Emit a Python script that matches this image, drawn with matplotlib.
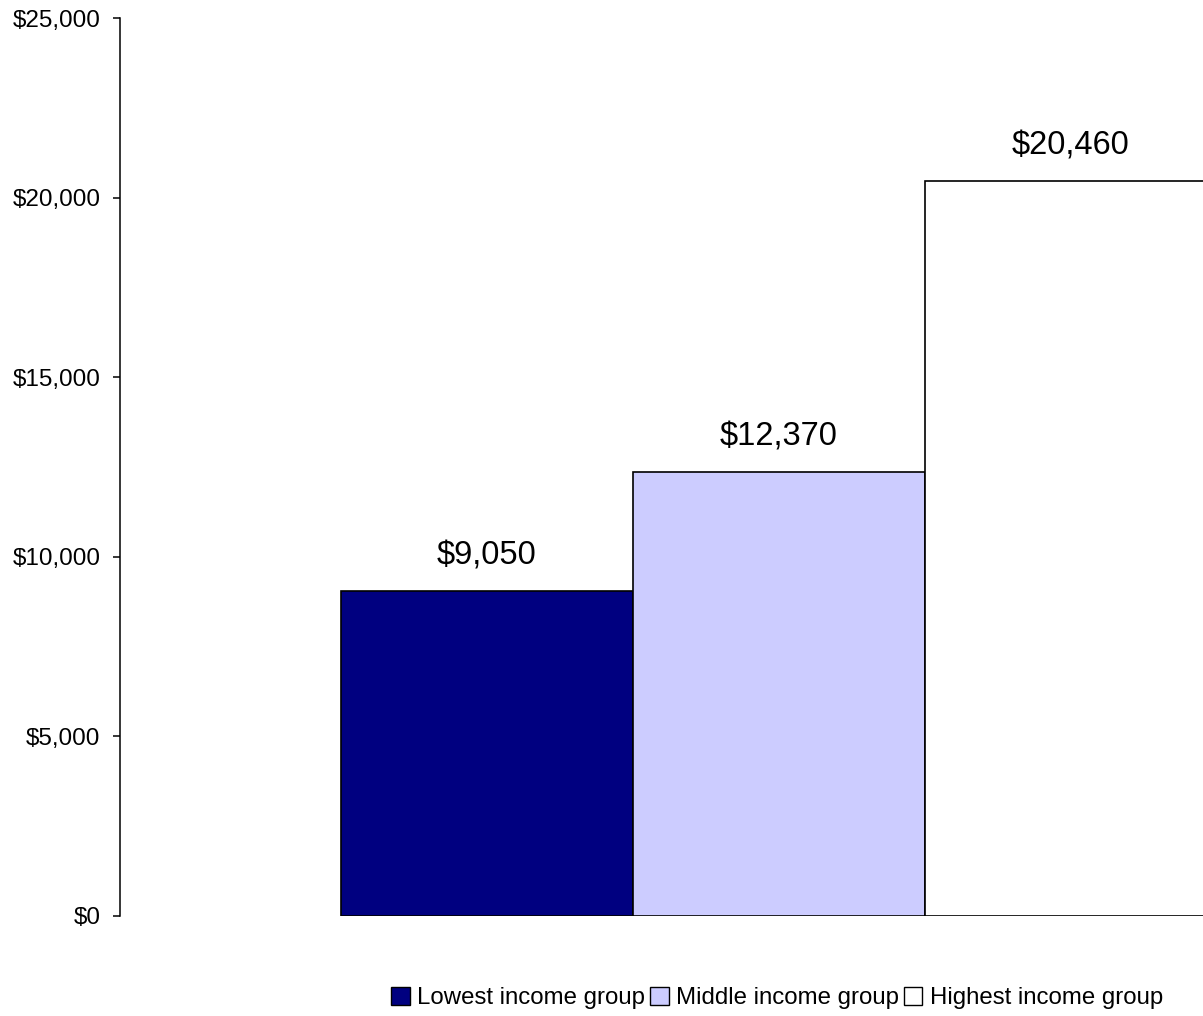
import matplotlib
matplotlib.use("Agg")
import matplotlib.pyplot as plt
from matplotlib import font_manager
from matplotlib.patches import Patch
from matplotlib.ticker import FuncFormatter

names = {f.name for f in font_manager.fontManager.ttflist}
fam = "Liberation Sans Narrow" if "Liberation Sans Narrow" in names else "Liberation Sans"
plt.rcParams['font.family'] = [fam, 'DejaVu Sans']
narrow = fam == "Liberation Sans Narrow"

groups = ["Lowest income group", "Middle income group", "Highest income group"]
values = [9050, 12370, 20460]
labels = ["$9,050", "$12,370", "$20,460"]
colors = ["#000080", "#CCCCFF", "#FFFFFF"]
yticks = [0, 5000, 10000, 15000, 20000, 25000]

tick_fs = 20 if narrow else 17.5
lab_fs = 26 if narrow else 23.5
leg_fs = 20 if narrow else 17.3

fig = plt.figure(figsize=(12.03, 10.16), dpi=100)
ax = fig.add_axes([120/1203, 1-916/1016, 1-120/1203, (916-18)/1016])

positions = list(range(len(values)))
bars = ax.bar(positions, values, width=1.0, color=colors, edgecolor="black", linewidth=1.2)
for b, lab in zip(bars, labels):
    ax.annotate(lab, (b.get_x() + b.get_width()/2, b.get_height()), xytext=(0, 14),
                textcoords="offset points", ha="center", va="bottom", fontsize=lab_fs)

ax.set_xlim(-0.5 - 221/292, -0.5 + (1203-341)/292)
ax.set_ylim(0, 25000)
ax.set_yticks(yticks)
ax.yaxis.set_major_formatter(FuncFormatter(lambda v, p: f"${int(v):,}"))
ax.tick_params(axis='y', direction='out', length=5, width=1.1, labelsize=tick_fs, pad=9)
ax.set_xticks([])
for s in ["top", "right", "bottom"]:
    ax.spines[s].set_visible(False)
ax.spines["left"].set_linewidth(1.1)

handles = [Patch(facecolor=c, edgecolor="black", linewidth=1.0) for c in colors]
fig.legend(handles, groups, loc="center", bbox_to_anchor=(777/1203, 1-998/1016), ncol=3,
           frameon=False, fontsize=leg_fs, handlelength=0.78, handleheight=0.75,
           handletextpad=0.3, columnspacing=0.2, borderaxespad=0, borderpad=0)

fig.savefig("out.png", dpi=100)
